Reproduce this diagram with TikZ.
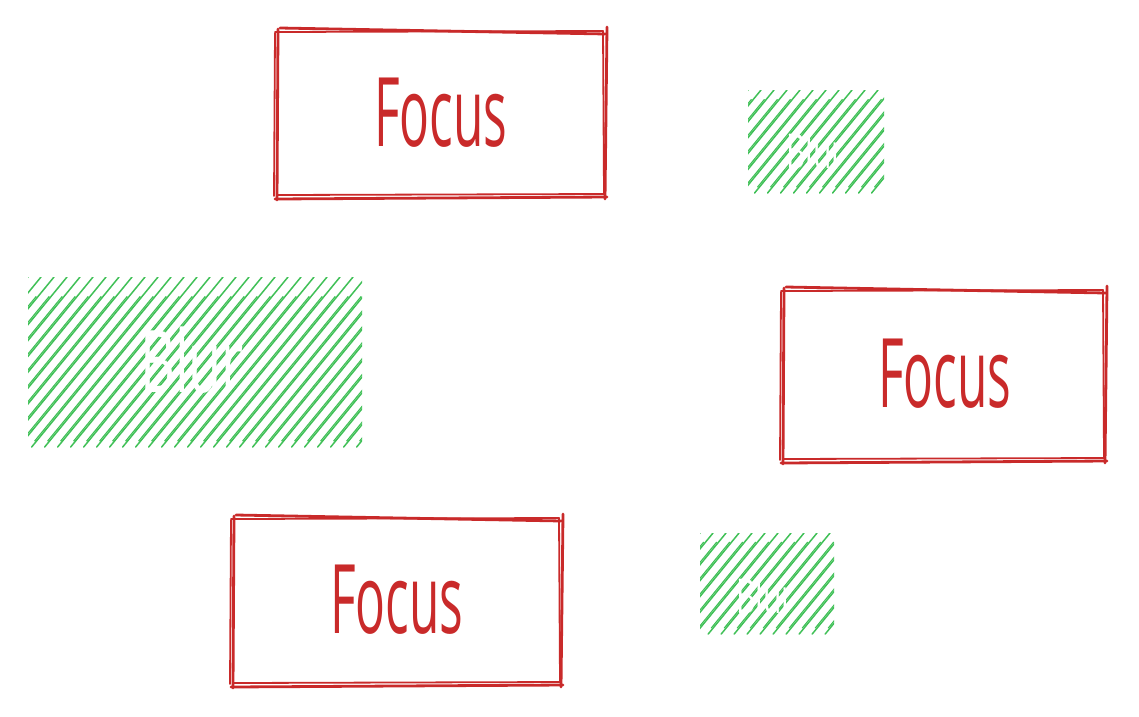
\documentclass[tikz,border=0pt]{standalone}
\usepackage{fontspec}
\setmainfont{Open Sans}
\definecolor{redseven}{HTML}{C92A2A}
\definecolor{greenhatch}{HTML}{40C057}
\tikzset{
  redline/.style={draw=redseven, line width=2.8pt, line cap=round, line join=round},
  redthin/.style={draw=redseven, line width=1.8pt, line cap=round, line join=round},
  hatchline/.style={draw=greenhatch, line width=1.5pt, line cap=round},
  focustext/.style={text=redseven, font=\fontsize{80}{80}\selectfont, xscale=0.62, yscale=1.2, inner sep=0pt},
  hiddentext/.style={text=white, font=\fontsize{#1}{#1}\selectfont, inner sep=0pt, xscale=0.75, yscale=1.2},
}
\newcommand{\skbox}[4]{%
  \draw[redline] ({#1+4},{#2-2}) -- ({#3},{#2+4});
  \draw[redline] ({#3+1},{#2-3}) -- ({#3-1},{#4+2});
  \draw[redline] ({#3+1},{#4}) -- ({#1-1},{#4+2});
  \draw[redline] ({#1+1},{#4+3}) -- ({#1+2},{#2-1});
  \draw[redthin] ({#1-1},{#2+2}) -- ({#3-3},{#2+1});
  \draw[redthin] ({#3-3},{#2+1}) -- ({#3-2},{#4-3});
  \draw[redthin] ({#3-1},{#4-3}) -- ({#1+2},{#4-2});
  \draw[redthin] ({#1-2},{#4-1}) -- ({#1-1},{#2+3});
}
\newcommand{\hatchbox}[4]{%
  \begin{scope}
    \clip (#1,#2) rectangle (#3,#4);
    \pgfmathsetmacro{\hh}{#4-#2}
    \pgfmathsetmacro{\dx}{\hh/1.22}
    \pgfmathsetmacro{\xs}{#1-\dx}
    \pgfmathsetmacro{\xt}{\xs+13}
    \foreach \i in {\xs,\xt,...,#3} {
      \draw[hatchline] (\i,#4) -- ++(\dx,-\hh);
      \draw[hatchline, line width=1.1pt] ({\i+3},{#4-6}) -- ++({\dx*0.85},{-\hh*0.85});
    }
  \end{scope}
}
\begin{document}
\begin{tikzpicture}[x=1pt,y=-1pt]
\useasboundingbox (0,0) rectangle (1139,716);
% red boxes
\skbox{276}{30}{606}{197}
\skbox{782}{289}{1106}{461}
\skbox{232}{517}{562}{685}
\node[focustext] (f1) at (441,113) {Focus};
\node[focustext] (f2) at (945,374) {Focus};
\node[focustext] (f3) at (397,600) {Focus};
% green hatched boxes
\hatchbox{748}{90}{884}{193}
\hatchbox{28}{277}{362}{447}
\hatchbox{700}{533}{834}{634}
\node[hiddentext=40] (g1) at (815,150) {Blur};
\node[hiddentext=72] (g2) at (192,360) {Blur};
\node[hiddentext=40] (g3) at (765,595) {Blur};
\end{tikzpicture}
\end{document}
